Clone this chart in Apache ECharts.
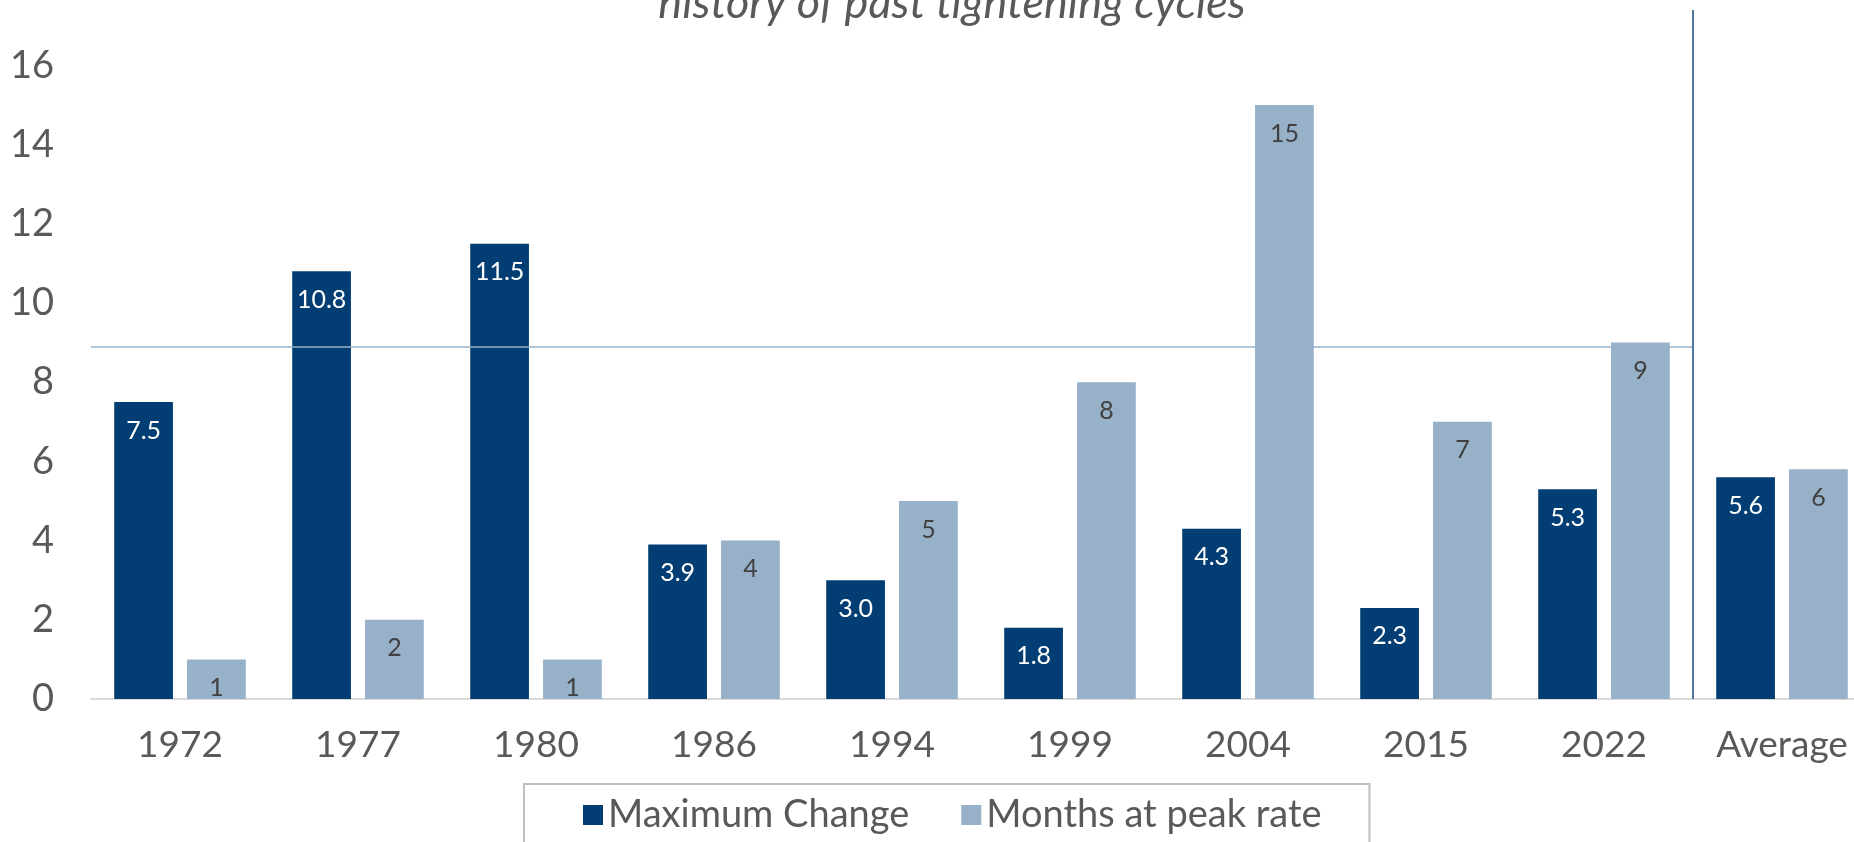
<!DOCTYPE html>
<html>
<head>
<meta charset="utf-8">
<script src="https://cdn.jsdelivr.net/npm/echarts@6/dist/echarts.min.js"></script>
<style>
  html, body { margin: 0; padding: 0; background: #fff; overflow: hidden; }
  #chart { width: 1900px; height: 842px; }
</style>
</head>
<body>
<div id="chart"></div>
<script>
// cycles and values
var categories = ["1972", "1977", "1980", "1986", "1994", "1999", "2004", "2015", "2022", "Average"];
var maxChange = [7.5, 10.8, 11.5, 3.9, 3.0, 1.8, 4.3, 2.3, 5.3, 5.6];
var monthsAtPeak = [1, 2, 1, 4, 5, 8, 15, 7, 9, 5.8];
var yTicks = [0, 2, 4, 6, 8, 10, 12, 14, 16];
var refLevel = 8.9;
// top of the plot area sits a bit above the last tick
var yTop = 17.4;

var DARK = "#023e73";
var LIGHT = "#97b1c9";
var FONT = "Lato";

var myChart = echarts.init(document.getElementById("chart"));

var option = {
  animation: false,
  textStyle: { fontFamily: FONT },
  title: {
    text: "history of past tightening cycles",
    left: 947,
    top: -24,
    textAlign: "center",
    textStyle: { fontFamily: FONT, fontStyle: "italic", fontWeight: "normal", fontSize: 45, color: "#595959" }
  },
  legend: {
    data: ["Maximum Change", "Months at peak rate"],
    left: 524,
    top: 784,
    padding: [12, 48, 40, 59],
    borderColor: "#bfbfbf",
    borderWidth: 2,
    itemGap: 52,
    itemWidth: 20,
    itemHeight: 20,
    icon: "rect",
    textStyle: { fontFamily: FONT, fontSize: 38, color: "#595959" }
  },
  grid: { left: 91, top: 10, width: 1780, bottom: 143, containLabel: false },
  xAxis: [
    {
      type: "category",
      data: categories,
      axisTick: { show: false },
      axisLine: { lineStyle: { color: "#d9d9d9", width: 2 } },
      axisLabel: { fontFamily: FONT, fontSize: 37, color: "#595959", margin: 28 }
    },
    { type: "value", min: 0, max: categories.length, show: false }
  ],
  yAxis: {
    type: "value",
    min: yTicks[0],
    max: yTop,
    interval: 2,
    splitLine: { show: false },
    axisLine: { show: false },
    axisTick: { show: false },
    axisLabel: { fontFamily: FONT, fontSize: 38, color: "#595959", margin: 37, showMaxLabel: false }
  },
  series: [
    {
      name: "Maximum Change",
      type: "bar",
      data: maxChange,
      barWidth: "33%",
      barGap: "24%",
      itemStyle: { color: DARK },
      label: {
        show: true,
        position: "insideTop",
        distance: 16,
        color: "#ffffff",
        fontFamily: FONT,
        fontSize: 25,
        formatter: function (p) { return p.value.toFixed(1); }
      }
    },
    {
      name: "Months at peak rate",
      type: "bar",
      data: monthsAtPeak,
      barWidth: "33%",
      itemStyle: { color: LIGHT },
      label: {
        show: true,
        position: "insideTop",
        distance: 16,
        color: "#404040",
        fontFamily: FONT,
        fontSize: 25,
        formatter: function (p) { return Math.round(p.value); }
      }
    },
    {
      type: "line",
      xAxisIndex: 1,
      data: [],
      z: 5,
      markLine: {
        silent: true,
        symbol: "none",
        label: { show: false },
        data: [
          [
            { coord: [0, refLevel], lineStyle: { color: "rgba(150,178,200,0.75)", width: 2, type: "solid" } },
            { coord: [categories.length - 1, refLevel] }
          ],
          { xAxis: categories.length - 1, lineStyle: { color: "#4f76a3", width: 2, type: "solid" } }
        ]
      }
    }
  ]
};

myChart.setOption(option);
</script>
</body>
</html>
